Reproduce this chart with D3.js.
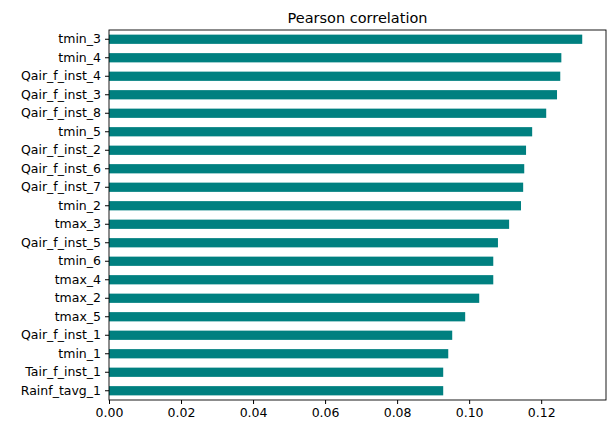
<!DOCTYPE html>
<html>
<head>
<meta charset="utf-8">
<script src="https://cdn.jsdelivr.net/npm/d3@7"></script>
<style>
  body { margin: 0; background: #fff; }
  text { font-family: "DejaVu Sans", sans-serif; }
</style>
</head>
<body>
<svg id="chart" width="615" height="435"></svg>
<script>
// features, top to bottom
var features = ["tmin_3", "tmin_4", "Qair_f_inst_4", "Qair_f_inst_3", "Qair_f_inst_8",
  "tmin_5", "Qair_f_inst_2", "Qair_f_inst_6", "Qair_f_inst_7", "tmin_2", "tmax_3",
  "Qair_f_inst_5", "tmin_6", "tmax_4", "tmax_2", "tmax_5", "Qair_f_inst_1", "tmin_1",
  "Tair_f_inst_1", "Rainf_tavg_1"];
var corr = [0.1314, 0.1256, 0.1253, 0.1244, 0.1214, 0.1175, 0.1158, 0.1153, 0.115,
  0.1144, 0.1111, 0.108, 0.1067, 0.1067, 0.1028, 0.0989, 0.0953, 0.0942, 0.0928, 0.0928];
var xTicks = [0, 0.02, 0.04, 0.06, 0.08, 0.10, 0.12];

var margin = { top: 30, right: 9, bottom: 35, left: 109 };
var width = 615 - margin.left - margin.right;
var height = 435 - margin.top - margin.bottom;

var svg = d3.select("#chart");
var g = svg.append("g").attr("transform", "translate(" + margin.left + "," + margin.top + ")");

var x = d3.scaleLinear().domain([0, 0.138]).range([0, width]);
var y = d3.scaleBand().domain(features).range([0, height]).paddingInner(0.5).paddingOuter(0.25);

g.selectAll("rect")
  .data(features)
  .enter()
  .append("rect")
  .attr("x", 0)
  .attr("y", function (d) { return y(d); })
  .attr("width", function (d, i) { return x(corr[i]); })
  .attr("height", y.bandwidth())
  .attr("fill", "#008080");

var xAxis = g.append("g")
  .attr("transform", "translate(0," + height + ")")
  .call(d3.axisBottom(x).tickValues(xTicks).tickFormat(d3.format(".2f")).tickSizeOuter(0).tickSize(4).tickPadding(4));
var yAxis = g.append("g")
  .call(d3.axisLeft(y).tickSizeOuter(0).tickSize(4).tickPadding(4));
[xAxis, yAxis].forEach(function (a) {
  a.selectAll("text").attr("font-size", 12.5).attr("fill", "#000").style("font-family", "DejaVu Sans");
  a.select(".domain").remove();
});

g.append("rect")
  .attr("width", width).attr("height", height)
  .attr("fill", "none").attr("stroke", "#000").attr("stroke-width", 0.9);

svg.append("text")
  .attr("x", margin.left + width / 2).attr("y", 23)
  .attr("text-anchor", "middle").attr("font-size", 14.5)
  .text("Pearson correlation");
</script>
</body>
</html>
